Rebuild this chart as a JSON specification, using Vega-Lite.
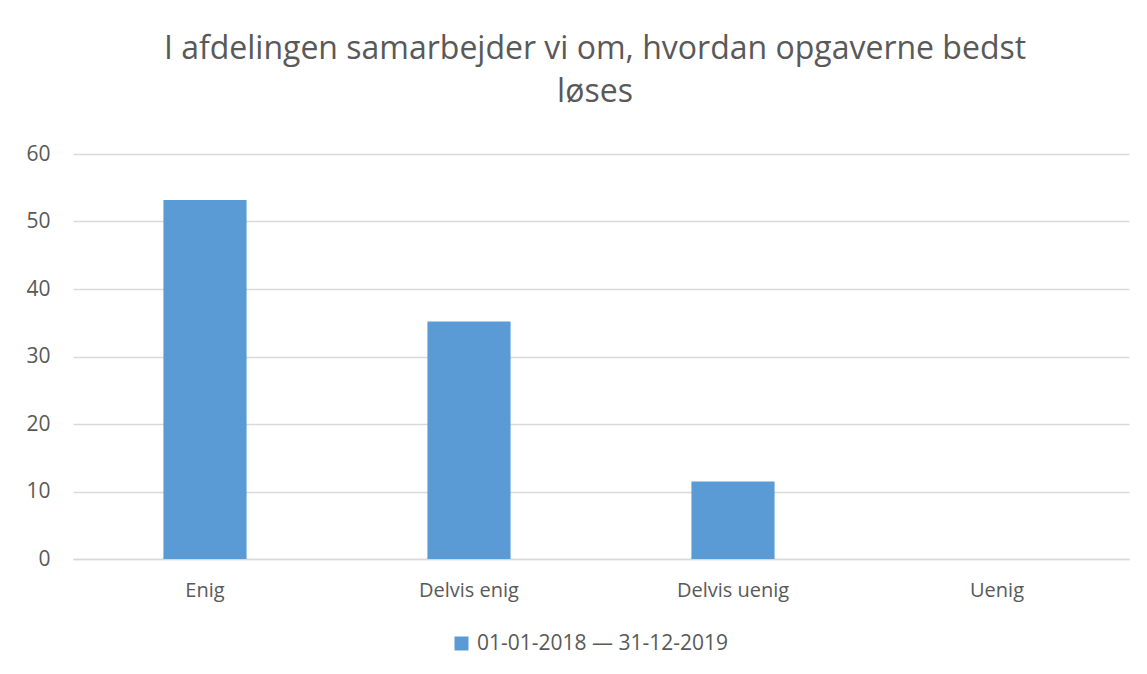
{
  "$schema": "https://vega.github.io/schema/vega-lite/v6.json",
  "width": 1056,
  "height": 405,
  "autosize": {"type": "none"},
  "padding": {"left": 73, "top": 154, "right": 18, "bottom": 115},
  "background": "white",
  "title": {
    "text": ["I afdelingen samarbejder vi om, hvordan opgaverne bedst", "løses"],
    "font": "Open Sans",
    "fontSize": 32,
    "fontWeight": "normal",
    "color": "#595959",
    "anchor": "middle",
    "lineHeight": 43,
    "offset": 34,
    "dx": -6
  },
  "data": {
    "values": [
      {"svar": "Enig", "pct": 53.2, "periode": "01-01-2018 — 31-12-2019"},
      {"svar": "Delvis enig", "pct": 35.2, "periode": "01-01-2018 — 31-12-2019"},
      {"svar": "Delvis uenig", "pct": 11.5, "periode": "01-01-2018 — 31-12-2019"},
      {"svar": "Uenig", "pct": 0, "periode": "01-01-2018 — 31-12-2019"}
    ]
  },
  "mark": {"type": "bar"},
  "encoding": {
    "x": {
      "field": "svar",
      "type": "nominal",
      "sort": null,
      "scale": {"paddingInner": 0.685, "paddingOuter": 0.3425},
      "axis": {
        "title": null,
        "labelAngle": 0,
        "labelFont": "Open Sans",
        "labelFontSize": 20,
        "labelColor": "#595959",
        "labelPadding": 21,
        "ticks": false,
        "domainColor": "#d9d9d9",
        "domainWidth": 1.5,
        "grid": false
      }
    },
    "y": {
      "field": "pct",
      "type": "quantitative",
      "scale": {"domain": [0, 60], "nice": false},
      "axis": {
        "title": null,
        "values": [0, 10, 20, 30, 40, 50, 60],
        "labelFont": "Open Sans",
        "labelFontSize": 21,
        "labelColor": "#595959",
        "labelPadding": 23,
        "ticks": false,
        "domain": false,
        "gridColor": "#d9d9d9",
        "gridWidth": 1.5
      }
    },
    "color": {
      "field": "periode",
      "type": "nominal",
      "scale": {"range": ["#5b9bd5"]},
      "legend": {
        "title": null,
        "orient": "none",
        "legendX": 378,
        "legendY": 479,
        "symbolType": "square",
        "symbolSize": 196,
        "symbolStrokeWidth": 0,
        "labelFont": "Open Sans",
        "labelFontSize": 21,
        "labelColor": "#595959",
        "labelOffset": 5,
        "labelLimit": 0
      }
    }
  },
  "config": {"view": {"stroke": null}}
}
